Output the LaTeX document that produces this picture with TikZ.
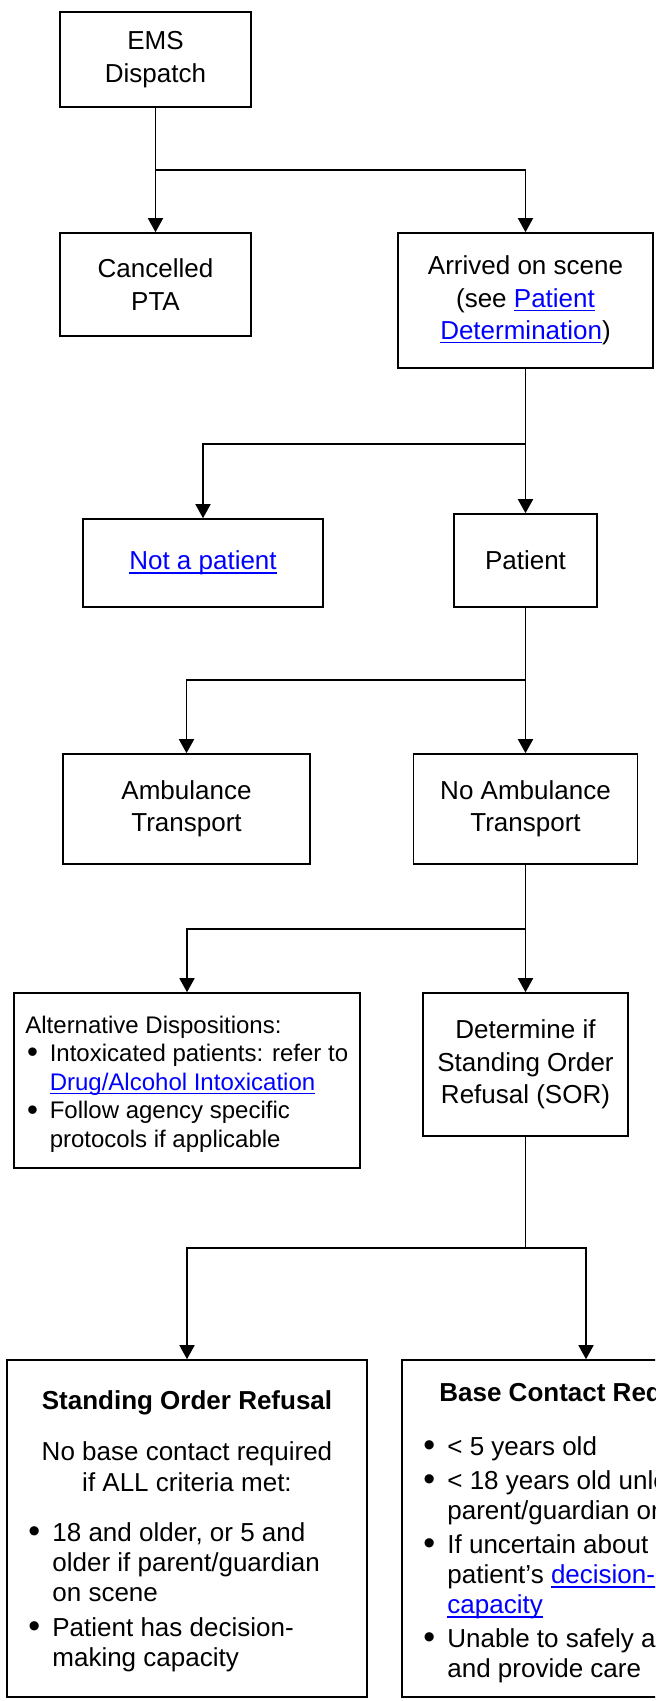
\documentclass[tikz,border=0pt]{standalone}
\usepackage{fontspec}
\setmainfont{Liberation Sans}
\usetikzlibrary{arrows.meta}
\definecolor{linkblue}{RGB}{0,0,255}
\newsavebox{\lnkbox}
\newcommand{\lnk}[1]{\textcolor{linkblue}{\sbox{\lnkbox}{#1}\rlap{\rule[-1.9pt]{\wd\lnkbox}{0.6pt}}\usebox{\lnkbox}}}
\newcommand{\bigbul}{\raisebox{-0.6pt}{\scalebox{1.3}{\textbullet}}}
\newcommand{\bitem}{\makebox[12.5pt][l]{\hspace*{0.5pt}\bigbul}}
\newcommand{\bcont}{\hspace*{12.5pt}}
\newcommand{\bitemS}{\makebox[12.2pt][l]{\hspace*{0.8pt}\bigbul}}
\newcommand{\bcontS}{\hspace*{12.2pt}}
\begin{document}
\begin{tikzpicture}[x=0.5pt, y=-0.5pt,
  box/.style={draw, line width=0.8pt, inner sep=0pt, align=center,
    font=\fontsize{13}{16.2}\selectfont},
  txt/.style={inner sep=0pt, font=\fontsize{13}{15}\selectfont},
  ttl/.style={inner sep=0pt, font=\fontsize{13}{15}\selectfont\bfseries},
  arr/.style={-{Triangle[length=7pt,width=7.5pt]}, line width=0.8pt},
  ln/.style={line width=0.8pt}]
\useasboundingbox (0,0) rectangle (655,1701);
\clip (0,0) rectangle (655,1701);

% boxes
\node[box, minimum width=95.5pt, minimum height=47.5pt] (ems) at (155.5,59.5) {EMS\\Dispatch};
\node[box, minimum width=95.5pt, minimum height=51.5pt] (can) at (155.5,284.5) {Cancelled\\PTA};
\node[box, minimum width=127.5pt, minimum height=67.5pt] (arv) at (525.5,300.5)
  {Arrived on scene\\(see \lnk{Patient}\\\lnk{Determination})};
\node[box, minimum width=120pt, minimum height=44pt] (nap) at (203,563) {\lnk{Not a patient}};
\node[box, minimum width=71.5pt, minimum height=46.5pt] (pat) at (525.5,560.5) {Patient};
\node[box, minimum width=123.5pt, minimum height=55pt] (amb) at (186.5,809) {Ambulance\\Transport};
\node[box, minimum width=112pt, minimum height=55pt] (noamb) at (525.5,809) {No Ambulance\\Transport};
\node[box, minimum width=173pt, minimum height=87.5pt] (alt) at (187,1080.5) {};
\node[txt, anchor=west, align=left, font=\fontsize{12}{14.3}\selectfont] (altt) at (25,1084)
  {Alternative Dispositions:\\
   \bitemS Intoxicated patients: refer to\\
   \bcontS\lnk{Drug/Alcohol Intoxication}\\
   \bitemS Follow agency specific\\
   \bcontS protocols if applicable};
\node[box, minimum width=102.5pt, minimum height=71.5pt] (det) at (525.5,1064.5)
  {Determine if\\Standing Order\\Refusal (SOR)};
\node[box, minimum width=180pt, minimum height=168.5pt] (sor) at (187,1528.5) {};
\node[box, minimum width=184pt, minimum height=168.5pt] (base) at (586,1528.5) {};

% SOR content
\node[ttl] (sort) at (187,1403) {Standing Order Refusal};
\node[txt, align=center, font=\fontsize{13}{15.8}\selectfont] (sorp) at (187,1466.5)
  {No base contact required\\if ALL criteria met:};
\node[txt, anchor=west, align=left] (sorb) at (27,1597)
  {\bitem 18 and older, or 5 and\\
   \bcont older if parent/guardian\\
   \bcont on scene\\[2.5pt]
   \bitem Patient has decision-\\
   \bcont making capacity};

% Base contact content
\node[ttl, anchor=west] (baset) at (439,1395) {Base Contact Required};
\node[txt, anchor=west, align=left] (baseb) at (422,1560)
  {\bitem < 5 years old\\[2pt]
   \bitem < 18 years old unless\\
   \bcont parent/guardian on scene\\[2pt]
   \bitem If uncertain about\\
   \bcont patient's \lnk{decision-making}\\
   \bcont\lnk{capacity}\\[2pt]
   \bitem Unable to safely assess\\
   \bcont and provide care};

% connectors
\coordinate (j1) at (155.5,170);
\draw[ln] (ems.south) -- (j1);
\draw[arr] (j1) -- (can.north);
\draw[arr] (j1) -| (arv.north);

\coordinate (j2) at (525.5,444);
\draw[ln] (arv.south) -- (j2);
\draw[arr] (j2) -- (pat.north);
\draw[arr] (j2) -| (nap.north);

\coordinate (j3) at (525.5,680);
\draw[ln] (pat.south) -- (j3);
\draw[arr] (j3) -- (noamb.north);
\draw[arr] (j3) -| (amb.north);

\coordinate (j4) at (525.5,929);
\draw[ln] (noamb.south) -- (j4);
\draw[arr] (j4) -- (det.north);
\draw[arr] (j4) -| (alt.north);

\coordinate (j5) at (525.5,1248);
\draw[ln] (det.south) -- (j5);
\draw[arr] (j5) -| (sor.north);
\draw[arr] (j5) -| (base.north);
\end{tikzpicture}
\end{document}
